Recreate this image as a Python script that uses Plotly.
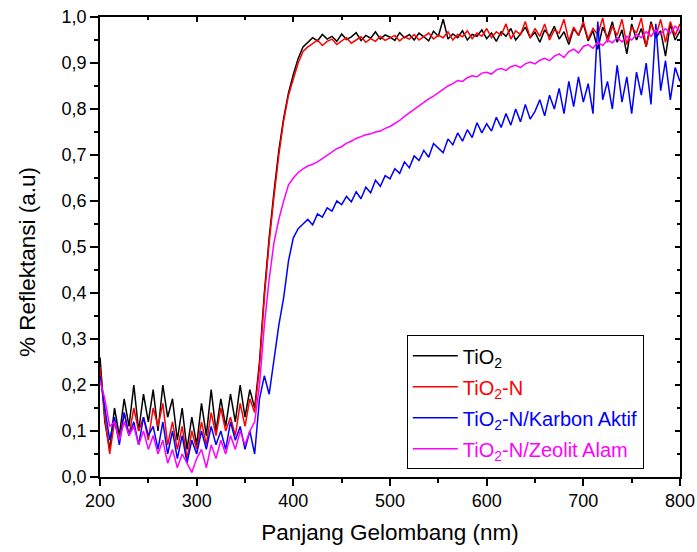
import plotly.graph_objects as go

# Wavelength grid (nm), one reading every 5 nm
wavelength = list(range(200, 805, 5))

# Diffuse reflectance of each sample (a.u.)
tio2 = [
    0.26, 0.12, 0.06, 0.15, 0.09, 0.17, 0.11, 0.20, 0.10, 0.18,
    0.12, 0.19, 0.10, 0.20, 0.13, 0.17, 0.08, 0.15, 0.06, 0.13,
    0.07, 0.16, 0.09, 0.19, 0.10, 0.17, 0.11, 0.18, 0.12, 0.20,
    0.13, 0.19, 0.15, 0.25, 0.40, 0.52, 0.62, 0.71, 0.78, 0.835,
    0.875, 0.91, 0.935, 0.945, 0.955, 0.948, 0.962, 0.952, 0.958, 0.947,
    0.963, 0.951, 0.957, 0.966, 0.949, 0.960, 0.954, 0.968, 0.952, 0.961,
    0.956, 0.949, 0.966, 0.955, 0.962, 0.950, 0.965, 0.957, 0.948, 0.969,
    0.958, 0.995, 0.952, 0.963, 0.955, 0.970, 0.950, 0.962, 0.958, 0.972,
    0.953, 0.965, 0.947, 0.968, 0.958, 0.975, 0.950, 0.963, 0.978, 0.955,
    0.967, 0.945, 0.972, 0.958, 0.980, 0.952, 0.968, 0.940, 0.975, 0.960,
    0.985, 0.948, 0.970, 0.930, 0.978, 0.955, 0.990, 0.945, 0.972, 0.920,
    0.985, 0.950, 0.975, 0.935, 0.990, 0.955, 0.970, 0.915, 0.985, 0.950,
    0.970,
]
tio2_n = [
    0.24, 0.13, 0.05, 0.12, 0.08, 0.14, 0.09, 0.15, 0.10, 0.13,
    0.08, 0.15, 0.11, 0.16, 0.07, 0.12, 0.06, 0.11, 0.04, 0.10,
    0.06, 0.12, 0.07, 0.14, 0.09, 0.15, 0.10, 0.13, 0.09, 0.16,
    0.11, 0.17, 0.14, 0.24, 0.39, 0.51, 0.61, 0.70, 0.775, 0.83,
    0.865, 0.90, 0.925, 0.935, 0.942, 0.950, 0.938, 0.947, 0.952, 0.940,
    0.948, 0.955, 0.943, 0.950, 0.957, 0.945, 0.953, 0.947, 0.958, 0.949,
    0.955, 0.960, 0.948, 0.957, 0.952, 0.962, 0.950, 0.958, 0.965, 0.952,
    0.960, 0.955, 0.968, 0.950, 0.962, 0.957, 0.970, 0.953, 0.965, 0.958,
    0.975, 0.955, 0.968, 0.960, 0.985, 0.952, 0.970, 0.962, 0.990, 0.955,
    0.975, 0.958, 0.985, 0.950, 0.972, 0.965, 0.995, 0.948, 0.978, 0.960,
    0.990, 0.952, 0.975, 0.962, 0.998, 0.945, 0.980, 0.960, 0.995, 0.940,
    0.978, 0.965, 0.998, 0.935, 0.985, 0.958, 0.995, 0.945, 0.990, 0.960,
    0.985,
]
tio2_n_karbon = [
    0.22, 0.15, 0.08, 0.13, 0.07, 0.14, 0.09, 0.12, 0.07, 0.13,
    0.09, 0.11, 0.06, 0.12, 0.05, 0.10, 0.04, 0.09, 0.03, 0.08,
    0.05, 0.10, 0.06, 0.11, 0.07, 0.10, 0.06, 0.12, 0.08, 0.11,
    0.06, 0.10, 0.05, 0.17, 0.22, 0.18, 0.26, 0.33, 0.39, 0.47,
    0.52, 0.54, 0.55, 0.56, 0.548, 0.572, 0.565, 0.585, 0.578, 0.600,
    0.592, 0.610, 0.598, 0.620, 0.605, 0.630, 0.618, 0.645, 0.632, 0.655,
    0.648, 0.670, 0.660, 0.685, 0.672, 0.698, 0.688, 0.710, 0.695, 0.725,
    0.715, 0.705, 0.735, 0.722, 0.748, 0.730, 0.755, 0.738, 0.770, 0.748,
    0.768, 0.752, 0.782, 0.760, 0.790, 0.765, 0.800, 0.772, 0.810, 0.778,
    0.795, 0.820, 0.785, 0.830, 0.800, 0.845, 0.790, 0.860, 0.805, 0.870,
    0.815, 0.855, 0.790, 0.990, 0.820, 0.860, 0.800, 0.895, 0.815, 0.870,
    0.790, 0.880, 0.830, 0.900, 0.810, 0.985, 0.840, 0.905, 0.820, 0.890,
    0.860,
]
tio2_n_zeolit = [
    0.21, 0.17, 0.11, 0.12, 0.08, 0.12, 0.09, 0.11, 0.07, 0.10,
    0.06, 0.09, 0.05, 0.08, 0.03, 0.06, 0.02, 0.05, 0.03, 0.01,
    0.04, 0.06, 0.02, 0.07, 0.04, 0.08, 0.05, 0.09, 0.06, 0.10,
    0.07, 0.10, 0.12, 0.20, 0.33, 0.43, 0.51, 0.56, 0.60, 0.635,
    0.650, 0.662, 0.670, 0.676, 0.680, 0.685, 0.692, 0.700, 0.706, 0.714,
    0.718, 0.726, 0.730, 0.736, 0.740, 0.744, 0.746, 0.750, 0.752, 0.758,
    0.762, 0.768, 0.775, 0.784, 0.792, 0.800, 0.806, 0.815, 0.822, 0.828,
    0.836, 0.842, 0.850, 0.855, 0.862, 0.860, 0.868, 0.872, 0.870, 0.878,
    0.880, 0.876, 0.885, 0.888, 0.884, 0.892, 0.895, 0.890, 0.898, 0.902,
    0.898, 0.906, 0.910, 0.905, 0.915, 0.920, 0.912, 0.925, 0.930, 0.922,
    0.936, 0.940, 0.932, 0.945, 0.938, 0.950, 0.944, 0.955, 0.946, 0.958,
    0.950, 0.962, 0.955, 0.968, 0.958, 0.972, 0.962, 0.975, 0.965, 0.980,
    0.970,
]

series = [
    ("TiO<sub>2</sub>", tio2, "#000000"),
    ("TiO<sub>2</sub>-N", tio2_n, "#FF0000"),
    ("TiO<sub>2</sub>-N/Karbon Aktif", tio2_n_karbon, "#0000FF"),
    ("TiO<sub>2</sub>-N/Zeolit Alam", tio2_n_zeolit, "#FF00FF"),
]

FONT = "Liberation Sans, Arial, sans-serif"

fig = go.Figure()
for i, (name, values, color) in enumerate(series):
    fig.add_trace(go.Scatter(
        x=wavelength, y=values, mode="lines",
        name=f"<span style='color:{color}'>{name}</span>",
        legendgroup=f"g{i}",
        line=dict(color=color, width=1.5),
    ))

# Invisible trace that carries the mirrored top/right axes (inward ticks)
fig.add_trace(go.Scatter(
    x=[wavelength[0]], y=[tio2[0]], xaxis="x2", yaxis="y2",
    mode="markers", marker=dict(opacity=0), showlegend=False, hoverinfo="skip",
))

axis_common = dict(
    showgrid=False, zeroline=False, showline=True, automargin=False,
    linecolor="black", linewidth=1.5,
    tickcolor="black", tickwidth=1.5,
    tickfont=dict(family=FONT, size=18, color="black"),
)
mirror_common = dict(
    showgrid=False, zeroline=False, showline=True, automargin=False,
    linecolor="black", linewidth=1.5,
    ticks="inside", ticklen=5, tickcolor="black", tickwidth=1.5,
    showticklabels=False,
)

fig.update_layout(
    width=697, height=552,
    margin=dict(l=100, r=17, t=17, b=75),
    paper_bgcolor="white", plot_bgcolor="white",
    separators=",.",
    font=dict(family=FONT, color="black"),
    xaxis=dict(
        **axis_common, range=[200, 800], dtick=100, ticks="outside", ticklen=7,
        minor=dict(ticks="outside", ticklen=4, dtick=50, tickcolor="black", tickwidth=1.5),
        title=dict(text="Panjang Gelombang (nm)", font=dict(family=FONT, size=22.5), standoff=14),
    ),
    yaxis=dict(
        **axis_common, range=[0, 1.0], dtick=0.1, tickformat=".1f", ticks="outside", ticklen=8,
        minor=dict(ticks="outside", ticklen=4, dtick=0.05, tickcolor="black", tickwidth=1.5),
    ),
    xaxis2=dict(
        **mirror_common, overlaying="x", side="top", matches="x", range=[200, 800], dtick=100,
        minor=dict(ticks="inside", ticklen=3, dtick=50, tickcolor="black"),
    ),
    yaxis2=dict(
        **mirror_common, overlaying="y", side="right", matches="y", range=[0, 1.0], dtick=0.1,
        minor=dict(ticks="inside", ticklen=3, dtick=0.05, tickcolor="black"),
    ),
    legend=dict(
        x=0.529, y=0.308, xanchor="left", yanchor="top",
        bgcolor="white", bordercolor="black", borderwidth=1,
        font=dict(family=FONT, size=20),
        tracegroupgap=2, itemwidth=45,
    ),
    showlegend=True,
    annotations=[dict(
        text="% Reflektansi (a.u)", textangle=-90,
        xref="paper", yref="paper", x=-0.126, y=0.467,
        xanchor="center", yanchor="middle", showarrow=False,
        font=dict(family=FONT, size=22.5, color="black"),
    )],
)

fig.write_html("out.html")
